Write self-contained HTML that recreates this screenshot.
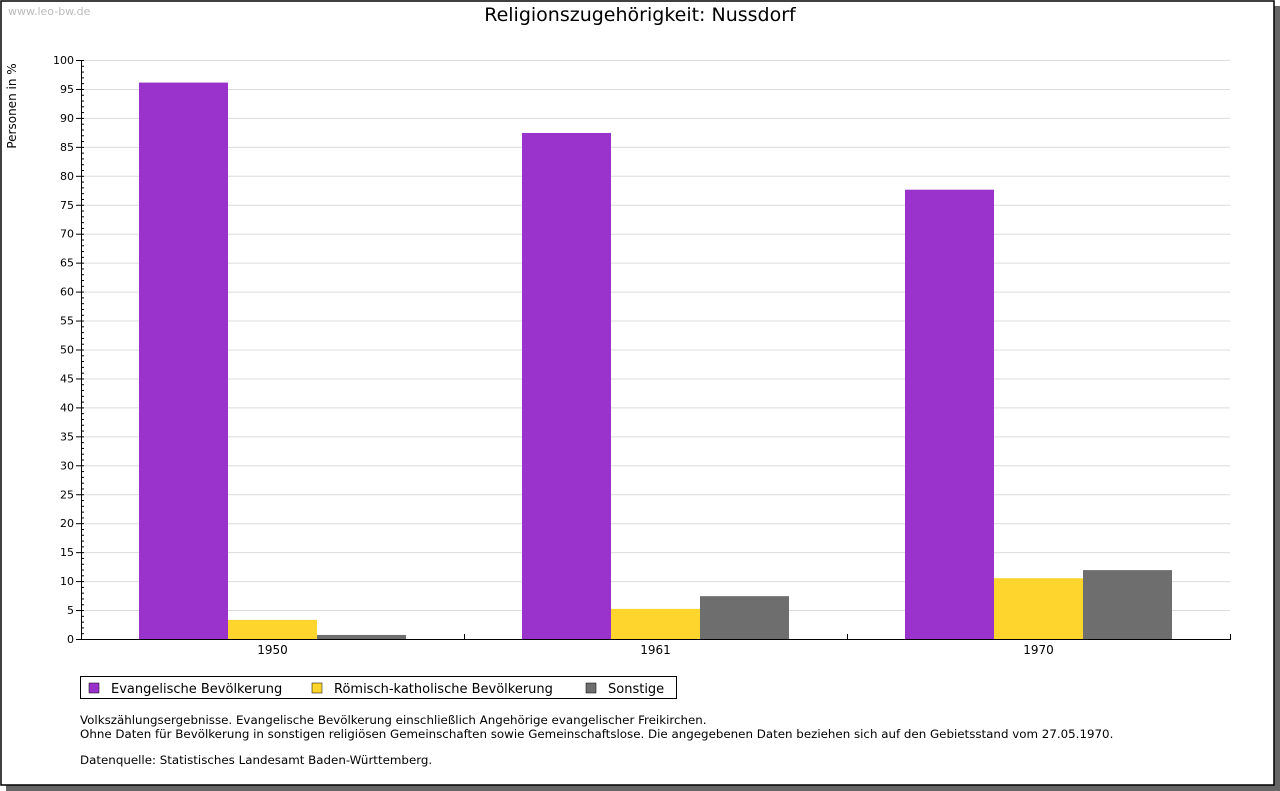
<!DOCTYPE html>
<html><head><meta charset="utf-8"><style>
html,body{margin:0;padding:0;background:#fff;}
svg{display:block;font-family:"DejaVu Sans","Liberation Sans",sans-serif;}
</style></head><body>
<svg id="chart" width="1280" height="791" viewBox="0 0 1280 791">
<rect x="6" y="6" width="1274" height="785" fill="#666"/>
<rect x="1" y="1" width="1273" height="784" fill="#fff" stroke="#000" stroke-width="1.5"/>
<text x="8" y="15" font-size="11" fill="#bbb">www.leo-bw.de</text>
<text x="640" y="21" font-size="19" text-anchor="middle" fill="#000">Religionszugehörigkeit: Nussdorf</text>
<text transform="translate(16,106) rotate(-90)" font-size="12" text-anchor="middle">Personen in %</text>
<g id="grid"></g><g id="bars"></g><g id="axes"></g>
<g>
<rect x="80.5" y="676.5" width="596" height="22" fill="#fff" stroke="#000"/>
<rect x="89" y="683" width="10" height="10" fill="#9933cc" stroke="#000" stroke-width="0.5"/>
<text x="111" y="693" font-size="13">Evangelische Bevölkerung</text>
<rect x="312" y="683" width="10" height="10" fill="#fdd52c" stroke="#000" stroke-width="0.5"/>
<text x="334" y="693" font-size="13">Römisch-katholische Bevölkerung</text>
<rect x="586" y="683" width="10" height="10" fill="#6e6e6e" stroke="#000" stroke-width="0.5"/>
<text x="608" y="693" font-size="13">Sonstige</text>
</g>
<g font-size="11.85">
<text x="80" y="724">Volkszählungsergebnisse. Evangelische Bevölkerung einschließlich Angehörige evangelischer Freikirchen.</text>
<text x="80" y="738">Ohne Daten für Bevölkerung in sonstigen religiösen Gemeinschaften sowie Gemeinschaftslose. Die angegebenen Daten beziehen sich auf den Gebietsstand vom 27.05.1970.</text>
<text x="80" y="764">Datenquelle: Statistisches Landesamt Baden-Württemberg.</text>
</g>
</svg>
<script>
const categories = ["1950","1961","1970"];
const evangelisch = [96.1, 87.4, 77.6];
const katholisch = [3.3, 5.2, 10.5];
const sonstige = [0.7, 7.4, 11.9];
const yTicks = [0,5,10,15,20,25,30,35,40,45,50,55,60,65,70,75,80,85,90,95,100];

const NS="http://www.w3.org/2000/svg";
const X0=81,X1=1230,Y0=639,Y1=60;
const y=v=>Y0-(v/100)*(Y0-Y1);
const groupW=(X1-X0)/categories.length;
const barW=89, pad=(groupW-3*barW)/2;
function mk(tag,attrs,parent){const e=document.createElementNS(NS,tag);for(const k in attrs)e.setAttribute(k,attrs[k]);parent.appendChild(e);return e;}
const grid=document.getElementById('grid'),bars=document.getElementById('bars'),axes=document.getElementById('axes');
yTicks.forEach(t=>{
  if(t>0){const l=mk('line',{x1:X0,x2:X1,y1:y(t)+.5,y2:y(t)+.5,stroke:'#dcdcdc'},grid);
  
  }
  const tx=mk('text',{x:74,y:y(t)+4,'font-size':11,'text-anchor':'end'},axes);tx.textContent=t;
  
  
  mk('line',{x1:X0-5,x2:X0,y1:y(t)+.5,y2:y(t)+.5,stroke:'#000'},axes);
});
for(let v=0;v<=100;v++){mk('line',{x1:X0,x2:X0+3,y1:y(v)+.5,y2:y(v)+.5,stroke:'#000'},axes);}
const series=[[evangelisch,'#9933cc','evangelisch'],[katholisch,'#fdd52c','katholisch'],[sonstige,'#6e6e6e','sonstige']];
categories.forEach((c,i)=>{
  const gx=X0+i*groupW;
  series.forEach(([arr,col,nm],j)=>{
    const r=mk('rect',{x:gx+pad+j*barW,y:y(arr[i]),width:barW,height:Y0-y(arr[i]),fill:col},bars);
    
    
  });
  const tx=mk('text',{x:gx+groupW/2,y:654,'font-size':12,'text-anchor':'middle'},axes);tx.textContent=c;
  
  
  mk('line',{x1:gx+groupW+.5,x2:gx+groupW+.5,y1:Y0-5,y2:Y0,stroke:'#000'},axes);
});
const ya=mk('line',{x1:X0+.5,x2:X0+.5,y1:Y1,y2:Y0,stroke:'#000'},axes);


const xa=mk('line',{x1:X0,x2:X1+1,y1:Y0+.5,y2:Y0+.5,stroke:'#000'},axes);


</script>
</body></html>
